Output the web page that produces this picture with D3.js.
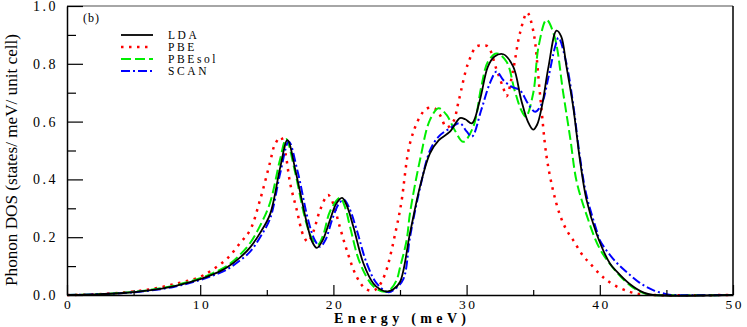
<html>
<head>
<style>
  body { margin: 0; background: #fff; }
  text { font-family: "Liberation Serif", "Times New Roman", serif; }
</style>
</head>
<body>
<svg id="chart" width="747" height="327"></svg>
<script src="https://cdn.jsdelivr.net/npm/d3@7"></script>
<script>
// phonon DOS, [energy meV, DOS]
const lda = [[0,0],[2,0.002],[4,0.006],[6,0.015],[8,0.03],[10,0.055],[11,0.072],[12,0.095],[13,0.13],[13.75,0.165],[14.5,0.215],[15.25,0.28],[16,0.44],[16.55,0.536],[17.2,0.42],[18,0.25],[18.4,0.185],[18.75,0.163],[19.2,0.19],[19.75,0.26],[20.2,0.315],[20.65,0.336],[21,0.31],[21.5,0.236],[22.25,0.11],[23,0.04],[23.5,0.02],[24,0.012],[24.5,0.02],[25,0.045],[25.75,0.214],[26.5,0.375],[27.25,0.49],[27.9,0.535],[28.75,0.565],[29.5,0.612],[29.9,0.608],[30.4,0.594],[31,0.675],[31.6,0.79],[32.1,0.825],[32.75,0.833],[33.5,0.79],[34.1,0.675],[34.6,0.6],[35,0.572],[35.3,0.59],[35.65,0.652],[36.15,0.79],[36.75,0.915],[37.1,0.895],[37.5,0.79],[38,0.652],[38.5,0.47],[39,0.33],[39.75,0.213],[40.75,0.11],[41.3,0.08],[42.2,0.04],[43.3,0.008],[44,0],[50,0]];
const pbe = [[0,0],[2,0.002],[4,0.008],[6,0.018],[8,0.037],[10,0.063],[11,0.09],[12,0.125],[13,0.18],[13.75,0.225],[14.5,0.33],[15.25,0.46],[15.6,0.52],[16.05,0.546],[16.4,0.49],[16.75,0.387],[17.25,0.294],[17.75,0.205],[18.1,0.184],[18.5,0.22],[19,0.294],[19.6,0.346],[20,0.315],[20.4,0.249],[21,0.156],[21.75,0.063],[22.4,0.022],[23,0.015],[23.4,0.03],[23.9,0.075],[24.75,0.236],[25.1,0.32],[25.75,0.525],[26.5,0.617],[27,0.645],[27.6,0.646],[28,0.623],[28.5,0.58],[29,0.6],[29.4,0.67],[30.1,0.8],[30.75,0.86],[31.2,0.863],[31.6,0.86],[32.25,0.78],[32.75,0.717],[33,0.688],[33.5,0.78],[34,0.905],[34.55,0.977],[35,0.915],[35.5,0.7],[36,0.48],[36.5,0.36],[37,0.278],[37.5,0.225],[38,0.19],[38.75,0.135],[39.25,0.11],[40,0.072],[40.5,0.052],[41.25,0.03],[42.25,0.011],[43,0.003],[44,0],[50,0]];
const pbesol = [[0,0],[2,0.002],[4,0.007],[6,0.016],[8,0.032],[10,0.058],[11,0.077],[12,0.1],[13,0.14],[13.75,0.18],[14.5,0.24],[15.25,0.32],[16,0.47],[16.45,0.54],[17.1,0.43],[17.9,0.26],[18.4,0.195],[18.85,0.175],[19.25,0.21],[19.75,0.29],[20.5,0.336],[20.9,0.3],[21.25,0.236],[22,0.11],[23,0.03],[23.85,0.011],[24.3,0.02],[24.75,0.052],[25,0.095],[25.5,0.19],[25.75,0.283],[26.5,0.467],[27.25,0.606],[27.9,0.646],[28.5,0.623],[29.1,0.571],[29.75,0.53],[30.5,0.582],[31.1,0.72],[31.6,0.807],[32.25,0.836],[33,0.807],[33.6,0.709],[34.1,0.64],[34.45,0.617],[35,0.698],[35.4,0.859],[36,0.952],[36.6,0.894],[37.25,0.7],[37.8,0.536],[38.25,0.395],[39,0.278],[40,0.16],[41.25,0.08],[42.5,0.025],[43.5,0.003],[44,0],[50,0]];
const scan = [[0,0],[2,0.002],[4,0.006],[6,0.014],[8,0.028],[10,0.052],[11,0.068],[12,0.088],[13,0.12],[13.75,0.15],[14.5,0.2],[15.25,0.265],[16,0.42],[16.65,0.53],[17.3,0.43],[18.1,0.26],[18.6,0.19],[19,0.167],[19.4,0.19],[19.9,0.26],[20.4,0.315],[20.8,0.33],[21.2,0.3],[21.75,0.225],[22.5,0.11],[23.25,0.04],[24.1,0.01],[24.6,0.02],[25.25,0.055],[25.75,0.2],[26.5,0.37],[27.25,0.5],[27.9,0.548],[28.75,0.577],[29.5,0.594],[30,0.566],[30.4,0.548],[31.1,0.64],[31.75,0.733],[32.25,0.773],[32.75,0.744],[33.4,0.72],[34,0.709],[34.6,0.663],[35.15,0.634],[35.65,0.663],[36.15,0.755],[36.65,0.86],[36.9,0.89],[37.5,0.8],[38,0.66],[38.5,0.48],[39,0.345],[39.75,0.225],[40,0.19],[41,0.125],[42,0.08],[43,0.042],[44,0.017],[45,0.003],[45.5,0],[50,0]];

const seriesNames = ["LDA", "PBE", "PBEsol", "SCAN"];
const xTicks = [0, 10, 20, 30, 40, 50];
const xMinor = [5, 15, 25, 35, 45];
const yTicks = [0, 0.2, 0.4, 0.6, 0.8, 1.0];
const yMinor = [0.1, 0.3, 0.5, 0.7, 0.9];

const series = [
  { name: "LDA", data: lda, color: "#000000", dash: null, width: 1.8 },
  { name: "PBE", data: pbe, color: "#ff0000", dash: "2.5,5.5", width: 2.5 },
  { name: "PBEsol", data: pbesol, color: "#00ee00", dash: "10,4", width: 2 },
  { name: "SCAN", data: scan, color: "#0000ff", dash: "9,3,2,3", width: 2 }
];

let svg = d3.select("#chart")
let x = d3.scaleLinear().domain([0, 50]).range([67, 733])
let y = d3.scaleLinear().domain([0, 1]).range([295, 6])

// curves
let line = d3.line()
  .x(d => x(d[0]))
  .y(d => y(d[1]))
  .curve(d3.curveCatmullRom.alpha(0.5))

// draw order: PBE under, then PBEsol, SCAN, LDA
let drawOrder = [1, 2, 3, 0]
for (let i of drawOrder) {
  let s = series[i]
  svg.append("path")
    .attr("d", line(s.data))
    .attr("fill", "none")
    .attr("stroke", s.color)
    .attr("stroke-width", s.width)
    .attr("stroke-dasharray", s.dash)
}

// frame
svg.append("line").attr("x1", 67).attr("x2", 733).attr("y1", 6).attr("y2", 6)
  .attr("stroke", "#888").attr("stroke-width", 1.5)
svg.append("line").attr("x1", 733).attr("x2", 733).attr("y1", 6).attr("y2", 295)
  .attr("stroke", "#000").attr("stroke-width", 1.5)

// axes, ticks pointing inside
let yAxis = svg.append("g").attr("transform", "translate(67,0)")
  .call(d3.axisLeft(y).tickValues(yTicks).tickFormat(d3.format(".1f"))
    .tickSizeInner(-16).tickSizeOuter(0).tickPadding(9))
svg.append("g").attr("transform", "translate(67,0)")
  .call(d3.axisLeft(y).tickValues(yMinor).tickFormat("").tickSizeInner(-9).tickSizeOuter(0))
  .select(".domain").remove()

let xAxis = svg.append("g").attr("transform", "translate(0,295)")
  .call(d3.axisBottom(x).tickValues(xTicks).tickFormat(d3.format("d"))
    .tickSizeInner(-10).tickSizeOuter(0).tickPadding(4))
svg.append("g").attr("transform", "translate(0,295)")
  .call(d3.axisBottom(x).tickValues(xMinor).tickFormat("").tickSizeInner(-5).tickSizeOuter(0))
  .select(".domain").remove()

svg.selectAll(".domain").attr("stroke-width", 1.5)
svg.selectAll(".tick line").attr("stroke-width", 1.2)
svg.selectAll(".tick text")
  .attr("font-family", "Liberation Serif")
  .attr("font-size", 14)
  .attr("letter-spacing", "2.5px")
  .attr("fill", "#000")
xAxis.selectAll(".tick text").attr("dx", "1.2").attr("font-size", 13.5)

// axis titles
svg.append("text")
  .attr("transform", "translate(17,160) rotate(-90)")
  .attr("text-anchor", "middle")
  .attr("font-size", 16)
  .attr("textLength", 252)
  .attr("lengthAdjust", "spacingAndGlyphs")
  .text("Phonon DOS (states/ meV/ unit cell)")

svg.append("text")
  .attr("x", 400).attr("y", 322.5)
  .attr("text-anchor", "middle")
  .attr("font-size", 14)
  .attr("font-weight", "bold")
  .attr("textLength", 132)
  .attr("lengthAdjust", "spacing")
  .text("Energy (meV)")

svg.append("text")
  .attr("x", 83).attr("y", 22)
  .attr("font-size", 12)
  .attr("letter-spacing", "1px")
  .text("(b)")

// legend
let legendY = [35, 47, 59, 71]
series.forEach((s, i) => {
  svg.append("line")
    .attr("x1", 121).attr("x2", 153)
    .attr("y1", legendY[i]).attr("y2", legendY[i])
    .attr("stroke", s.color)
    .attr("stroke-width", s.width)
    .attr("stroke-dasharray", s.dash)
  svg.append("text")
    .attr("x", 168).attr("y", legendY[i] + 4)
    .attr("font-size", 11.5)
    .attr("letter-spacing", "2.6px")
    .text(seriesNames[i])
})
</script>
</body>
</html>
